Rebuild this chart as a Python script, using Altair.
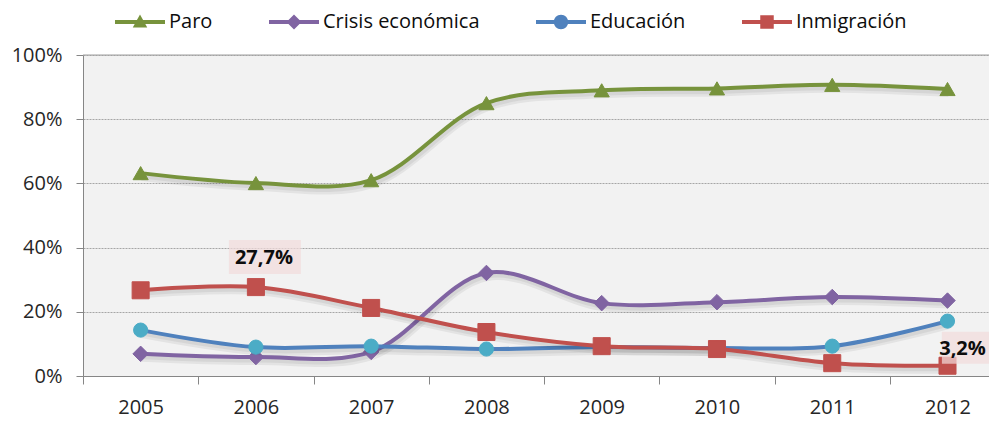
import altair as alt
import pandas as pd

years = [2005, 2006, 2007, 2008, 2009, 2010, 2011, 2012]
series = ["Paro", "Crisis económica", "Educación", "Inmigración"]
paro = [0.632, 0.601, 0.610, 0.850, 0.890, 0.896, 0.907, 0.894]
crisis = [0.069, 0.059, 0.075, 0.321, 0.227, 0.230, 0.246, 0.235]
educacion = [0.143, 0.090, 0.093, 0.084, 0.090, 0.087, 0.093, 0.171]
inmigracion = [0.267, 0.277, 0.212, 0.137, 0.093, 0.084, 0.040, 0.032]
values = [paro, crisis, educacion, inmigracion]

line_colors = ["#77933C", "#8064A2", "#4F81BD", "#C0504D"]
marker_colors = ["#77933C", "#8064A2", "#4BACC6", "#C0504D"]
marker_shapes = ["triangle-up", "diamond", "circle", "square"]
marker_sizes = [230, 240, 200, 290]

lab_years = [2006, 2012]
lab_values = [0.277, 0.032]
lab_texts = ["27,7%", "3,2%"]

tick_values = [y - 0.5 for y in years]

rows = []
for s, vals in zip(series, values):
    for yr, v in zip(years, vals):
        rows.append({"year": yr, "value": v, "serie": s})
df = pd.DataFrame(rows)

FONT = "Open Sans"
AXC = "#868686"
TXT = "#262626"

X = alt.X(
    "year:Q",
    scale=alt.Scale(domain=[2004.5, 2012.36], nice=False, zero=False),
    axis=alt.Axis(
        values=tick_values,
        labelExpr="format(datum.value + 0.5, 'd')",
        labelOffset=57.6,
        labelFlush=False,
        labelOverlap=False,
        tickSize=8,
        tickColor=AXC,
        domainColor=AXC,
        grid=False,
        title=None,
        labelFont=FONT,
        labelFontSize=20,
        labelColor=TXT,
        labelPadding=13,
    ),
)
Y = alt.Y(
    "value:Q",
    scale=alt.Scale(domain=[0, 1], nice=False),
    axis=alt.Axis(
        values=[0, 0.2, 0.4, 0.6, 0.8, 1.0],
        format=".0%",
        grid=True,
        gridDash=[2, 1],
        gridColor="#a6a6a6",
        tickSize=7,
        tickColor=AXC,
        domainColor=AXC,
        title=None,
        labelFont=FONT,
        labelFontSize=20,
        labelColor=TXT,
        labelPadding=14,
        labelFlush=False,
    ),
)

base = alt.Chart(df).encode(x=X, y=Y)

layers = []
top_rule = alt.Chart(pd.DataFrame({"v": [1.0]})).mark_rule(color="#a0a0a0", strokeWidth=1.2).encode(
    y=alt.Y("v:Q", scale=alt.Scale(domain=[0, 1], nice=False))
)
layers.append(top_rule)

for s, lc, mc, sh, sz in zip(series, line_colors, marker_colors, marker_shapes, marker_sizes):
    sub = base.transform_filter(alt.datum.serie == s)
    layers.append(
        sub.mark_line(color="#000000", opacity=0.06, strokeWidth=8, interpolate="catmull-rom", yOffset=4, xOffset=1)
    )
    layers.append(
        sub.mark_line(color="#000000", opacity=0.06, strokeWidth=5, interpolate="catmull-rom", yOffset=3, xOffset=1)
    )
    layers.append(sub.mark_line(color=lc, strokeWidth=4, interpolate="catmull-rom"))
    layers.append(
        sub.mark_point(shape=sh, size=sz, filled=True, fill=mc, opacity=1, stroke=mc, strokeWidth=1)
    )

# legend-only layer (line + marker glyphs fitting inside the symbol box)
legend_paths = [
    "M-1,-0.08H1V0.08H-1Z M0,-0.3L0.29,0.22H-0.29Z",
    "M-1,-0.08H1V0.08H-1Z M0,-0.3L0.3,0L0,0.3L-0.3,0Z",
    "M-1,-0.08H1V0.08H-1Z M-0.29,0A0.29,0.29 0 1,1 0.29,0A0.29,0.29 0 1,1 -0.29,0Z",
    "M-1,-0.08H1V0.08H-1Z M-0.27,-0.27H0.27V0.27H-0.27Z",
]
leg = alt.Legend(
    orient="none",
    legendX=32,
    legendY=-58,
    direction="horizontal",
    columns=4,
    title=None,
    symbolSize=2500,
    symbolStrokeWidth=0,
    symbolOpacity=1,
    labelOffset=4,
    columnPadding=56,
    labelFont=FONT,
    labelFontSize=20,
    labelColor="#0d0d0d",
    labelLimit=400,
    padding=0,
)
legend_layer = base.mark_point(filled=True, size=0).encode(
    fill=alt.Fill("serie:N", scale=alt.Scale(domain=series, range=line_colors), legend=leg),
    shape=alt.Shape("serie:N", scale=alt.Scale(domain=series, range=legend_paths), legend=leg),
)
layers.append(legend_layer)

# data labels
box_paths = ["M-2.25,-1.0625H2.25V1.0625H-2.25Z", "M-1.6,-1H1.6V1H-1.6Z"]
box_off = [(9, -30), (20, -18)]
txt_off = [(8, -29), (15, -17)]
for i in range(len(lab_years)):
    ldf = pd.DataFrame({"year": [lab_years[i]], "value": [lab_values[i]], "txt": [lab_texts[i]]})
    lc = alt.Chart(ldf).encode(x=X, y=Y)
    layers.append(
        lc.mark_point(shape=box_paths[i], size=1024, filled=True, fill="#f2dcdb", opacity=0.7,
                      strokeWidth=0, xOffset=box_off[i][0], yOffset=box_off[i][1])
    )
    layers.append(
        lc.mark_text(font=FONT, fontSize=20, fontWeight="bold", color="#0d0d0d",
                     dx=txt_off[i][0], dy=txt_off[i][1]).encode(text="txt:N")
    )

chart = (
    alt.layer(*layers)
    .resolve_scale(fill="independent", shape="independent")
    .properties(
        width=906,
        height=321,
        autosize=alt.AutoSizeParams(type="none"),
        padding={"left": 75, "top": 47, "right": 0, "bottom": 44},
        background="white",
    )
    .configure_view(fill="#f2f2f2", strokeWidth=0)
)

chart.save("out.html", embed_options={"renderer": "svg", "actions": False})
